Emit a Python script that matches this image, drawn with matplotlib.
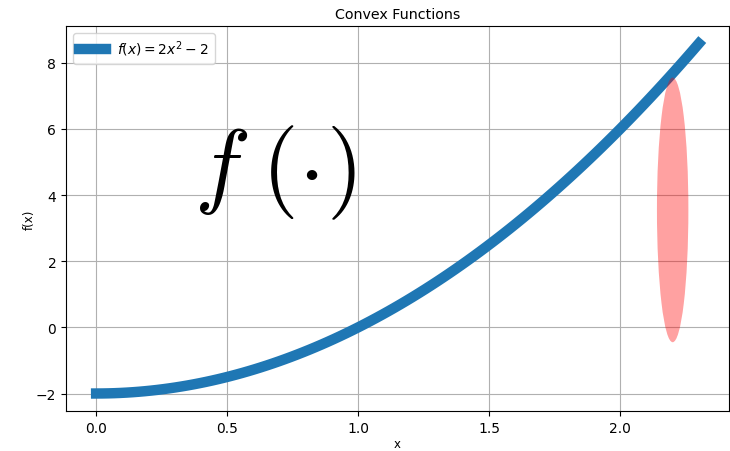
import numpy as np
import matplotlib.pyplot as plt
from matplotlib.patches import Ellipse
from matplotlib.transforms import offset_copy

plt.rcParams['mathtext.fontset'] = 'cm'

# curve samples, f(x) = 2x^2 - 2
x = np.linspace(0, 2.3, 100)
y = 2 * x**2 - 2

# highlighted region
ell_center = (2.2, 3.55)
ell_width = 0.12
ell_height = 8.0

fig = plt.figure(figsize=(7.3, 4.52), dpi=100)
ax = fig.add_axes([66/730, 40/452, 663/730, 385/452])

ax.plot(x, y, linewidth=7.5, label=r'$f(x) = 2x^2 - 2$', color='#1f77b4')
ax.add_patch(Ellipse(ell_center, ell_width, ell_height, color='red', alpha=0.37,
                     linewidth=0, zorder=3))

# big f(.) label, pieces spaced by hand in pixels
fx, fy = 0.375, 4.0
ax.text(fx, fy, r'$f$', fontsize=68)
ax.text(fx, fy, r'$($', fontsize=68,
        transform=offset_copy(ax.transData, fig=fig, x=67, y=0, units='dots'))
ax.text(fx, fy, r'$\cdot$', fontsize=68, ha='center',
        transform=offset_copy(ax.transData, fig=fig, x=114, y=0, units='dots'))
ax.text(fx, fy, r'$)$', fontsize=68,
        transform=offset_copy(ax.transData, fig=fig, x=132, y=0, units='dots'))

plt.rcParams['mathtext.fontset'] = 'dejavusans'
ax.set_title('Convex Functions', fontsize=10.3)
ax.set_xlabel('x', fontsize=8.5, labelpad=2)
ax.set_ylabel('f(x)', fontsize=8.5, labelpad=0)
ax.grid(True)
leg = ax.legend(loc='upper left', prop={'family': 'DejaVu Sans'})
for t in leg.get_texts():
    t.set_fontsize(10)

fig.savefig('out.png')
